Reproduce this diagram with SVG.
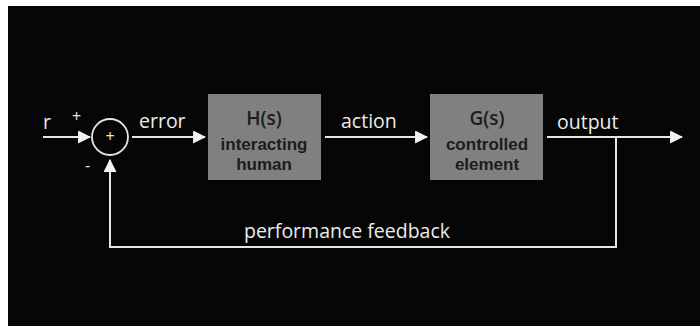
<svg xmlns="http://www.w3.org/2000/svg" width="700" height="327" viewBox="0 0 700 327">
  <style>
    .wire { fill: none; stroke: #e6e6e6; stroke-width: 2; }
    .lbl { font-family: "Open Sans", "Liberation Sans", sans-serif; font-size: 19.5px; fill: #ececec; }
    .sign { font-family: "Open Sans", "Liberation Sans", sans-serif; font-size: 16px; fill: #e6e6e6; }
    .box { fill: #808080; }
    .title { font-family: "Open Sans", "Liberation Sans", sans-serif; font-size: 19px; font-weight: 600; fill: #1c1c1c; text-anchor: middle; }
    .sub { font-family: "Liberation Sans", "Open Sans", sans-serif; font-size: 17px; font-weight: bold; fill: #1c1c1c; text-anchor: middle; }
  </style>
  <defs>
    <marker id="head" viewBox="0 0 12 12" refX="11" refY="6" markerWidth="13" markerHeight="13" markerUnits="userSpaceOnUse" orient="auto">
      <path d="M0,0 L12,6 L0,12 Z" fill="#f2f2f2"/>
    </marker>
  </defs>

  <rect x="0" y="0" width="700" height="327" fill="#ffffff"/>
  <rect x="8" y="6" width="692" height="320" fill="#060606"/>

  <g id="connectors">
    <line class="wire" x1="43" y1="137" x2="90" y2="137" marker-end="url(#head)"/>
    <line class="wire" x1="132" y1="137" x2="205" y2="137" marker-end="url(#head)"/>
    <line class="wire" x1="325" y1="137" x2="427" y2="137" marker-end="url(#head)"/>
    <line class="wire" x1="547" y1="137" x2="682" y2="137" marker-end="url(#head)"/>
    <polyline class="wire" points="616,137 616,247 110,247 110,160" marker-end="url(#head)"/>
    <text class="lbl" x="43" y="129">r</text>
    <text class="sign" x="72" y="122">+</text>
    <text class="sign" x="85" y="171">-</text>
    <text class="lbl" x="139" y="128">error</text>
    <text class="lbl" x="341" y="128">action</text>
    <text class="lbl" x="557" y="129">output</text>
    <text class="lbl" x="347" y="238" text-anchor="middle">performance feedback</text>
  </g>

  <g id="sum">
    <circle cx="110" cy="137" r="18" fill="none" stroke="#e6e6e6" stroke-width="1.8"/>
    <text class="sign" x="110" y="142" text-anchor="middle">+</text>
  </g>

  <g id="human">
    <rect class="box" x="208" y="94" width="113" height="86"/>
    <text class="title" x="264" y="125">H(s)</text>
    <text class="sub" x="264" y="150">interacting</text>
    <text class="sub" x="264" y="170">human</text>
  </g>

  <g id="element">
    <rect class="box" x="430" y="94" width="113" height="86"/>
    <text class="title" x="487" y="125">G(s)</text>
    <text class="sub" x="487" y="150">controlled</text>
    <text class="sub" x="487" y="170">element</text>
  </g>
</svg>
